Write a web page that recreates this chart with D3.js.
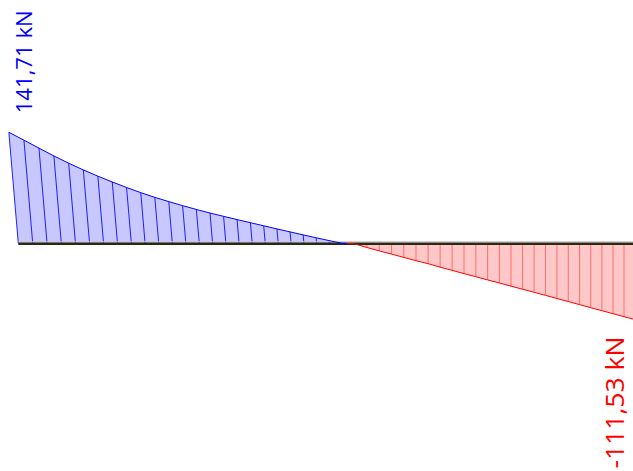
<!DOCTYPE html>
<html><head><meta charset="utf-8">
<script src="https://cdn.jsdelivr.net/npm/d3@7"></script>
<style>html,body{margin:0;padding:0;background:#fff;overflow:hidden}</style>
</head><body>
<svg id="chart" width="633" height="471"></svg>
<script>
// Shear force values (kN) at equally spaced stations along the beam
const positiveShear = [141.71, 132.1, 122.3, 112.6, 103.6, 95.2, 87.4, 80.1, 73.1, 66.6,
  60.6, 55.2, 50.0, 45.1, 40.5, 36.2, 32.0, 27.9, 23.8, 19.7, 15.7, 11.7, 7.8, 4.0, 0.3];
const negativeShear = [-0.4, -5.5, -10.2, -14.7, -19.3, -23.9, -28.2, -33.1, -37.7, -42.4,
  -46.9, -51.5, -56.1, -60.7, -65.2, -69.8, -74.4, -79.1, -83.7, -88.4,
  -93.1, -97.7, -102.3, -107.0, -111.53];
const shearValues = positiveShear.concat(negativeShear);
const stations = d3.range(shearValues.length);
const extremeLabels = ["141,71 kN", "-111,53 kN"];

const svg = d3.select("#chart");
const N = stations.length - 1;
const y0 = 243.5;
// perspective projection of the beam (receding to the right)
const along = d3.scaleLinear().domain([0, N]).range([0, 14.475 * N]);
const depth = d3.scaleLinear().domain([0, N]).range([1, 1 + 0.003064 * N]);
const xPos = k => 18.3 + along(k) / depth(k);
const vScale = d3.scaleLinear().domain([0, 141.71]).range([0, 111.2]);
const hOf = (k, v) => vScale(v) / depth(k);
const slant = 0.085;

function pt(k, v) {
  const h = hOf(k, v);
  if (v >= 0) return [xPos(k) - slant * h, y0 - h];
  return [xPos(k), y0 - h];
}

// zero crossing
const iPos = positiveShear.length - 1;
const v1 = shearValues[iPos], v2 = shearValues[iPos + 1];
const kc = iPos + v1 / (v1 - v2);
const cross = [xPos(kc), y0];

const posPts = d3.range(0, iPos + 1).map(k => pt(k, shearValues[k]));
const negPts = d3.range(iPos + 1, N + 1).map(k => pt(k, shearValues[k]));

const line = d3.line();
// fills
svg.append("path")
  .attr("d", line([[xPos(0), y0], ...posPts, cross]) + "Z")
  .attr("fill", "#c8c8ff");
svg.append("path")
  .attr("d", line([cross, ...negPts, [xPos(N), y0]]) + "Z")
  .attr("fill", "#ffc8c8");

// hatch lines
svg.append("g").selectAll("line")
  .data(stations)
  .join("line")
  .attr("x1", k => xPos(k))
  .attr("y1", y0)
  .attr("x2", k => pt(k, shearValues[k])[0])
  .attr("y2", k => pt(k, shearValues[k])[1])
  .attr("stroke", k => shearValues[k] >= 0 ? "#0000ff" : "#ff3030")
  .attr("stroke-opacity", k => shearValues[k] >= 0 ? 0.85 : 0.6)
  .attr("stroke-width", 1);

// beam
svg.append("line").attr("x1", xPos(0)).attr("x2", 633).attr("y1", y0 - 1.8).attr("y2", y0 - 1.8)
  .attr("stroke", "#c8c8c8").attr("stroke-width", 1);
svg.append("line").attr("x1", xPos(0)).attr("x2", 633).attr("y1", y0 + 0.3).attr("y2", y0 + 0.3)
  .attr("stroke", "#2a2816").attr("stroke-width", 2.6);

// value edges
svg.append("path").attr("d", line([...posPts, cross]))
  .attr("fill", "none").attr("stroke", "#0000ff").attr("stroke-width", 1);
svg.append("path").attr("d", line([cross, ...negPts]))
  .attr("fill", "none").attr("stroke", "#ff0000").attr("stroke-width", 1);

// labels
const p0 = pt(0, shearValues[0]);
svg.append("text")
  .attr("transform", `translate(${p0[0] + 23},${p0[1] - 19}) rotate(-90)`)
  .attr("font-family", "'Open Sans', sans-serif")
  .attr("font-size", 22)
  .attr("fill", "#0000ff")
  .attr("textLength", 103).attr("lengthAdjust", "spacingAndGlyphs")
  .text(extremeLabels[0]);
const pN = pt(N, shearValues[N]);
svg.append("text")
  .attr("transform", `translate(${pN[0] - 11},${pN[1] + 149}) rotate(-90)`)
  .attr("font-family", "'Open Sans', sans-serif")
  .attr("font-size", 25)
  .attr("fill", "#ff0000")
  .attr("textLength", 132).attr("lengthAdjust", "spacingAndGlyphs")
  .text(extremeLabels[1]);
</script>
</body></html>
